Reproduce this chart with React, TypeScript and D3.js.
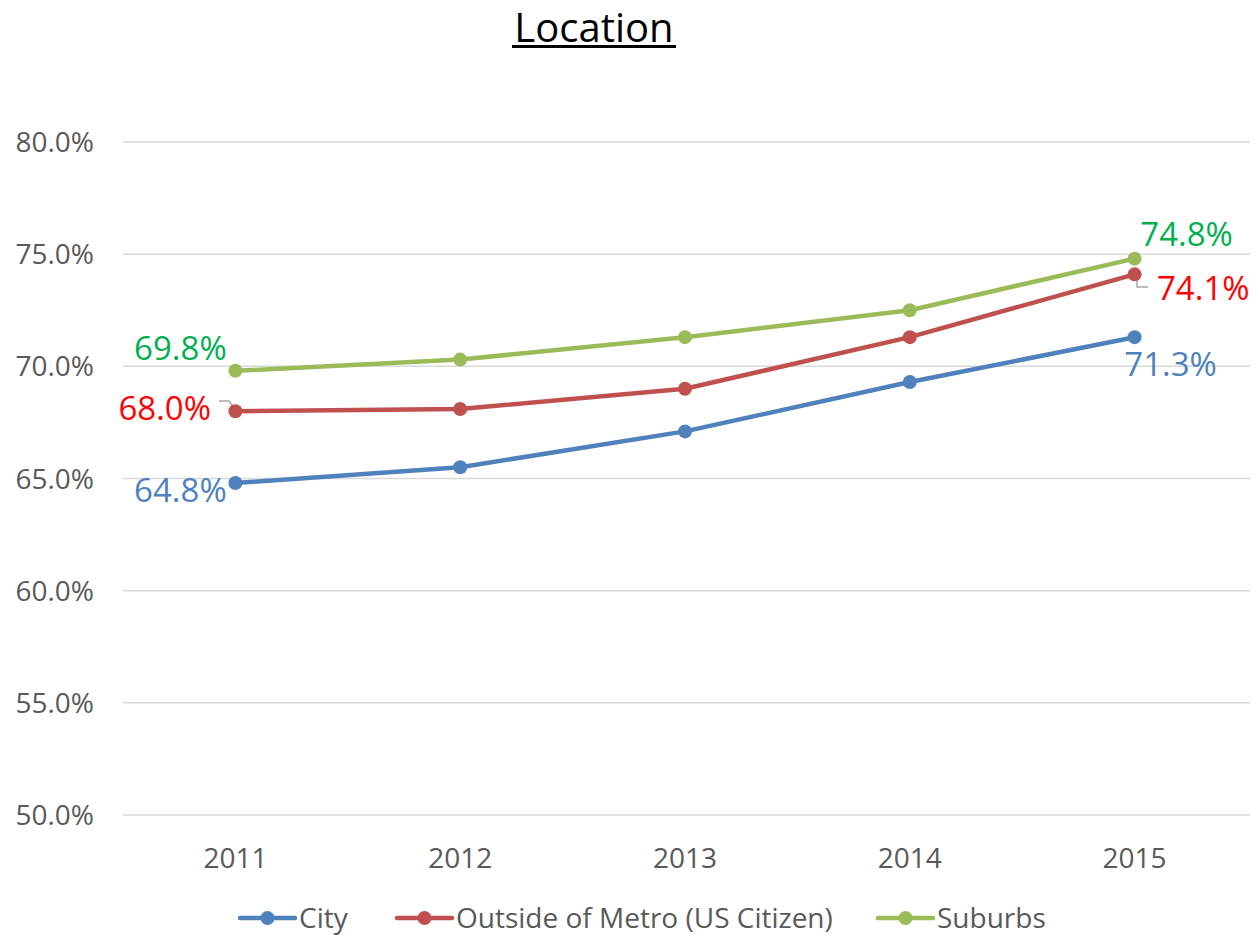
import React from "react";
import * as d3 from "d3";

const years = ["2011", "2012", "2013", "2014", "2015"];
const city = [64.8, 65.5, 67.1, 69.3, 71.3];
const outside = [68.0, 68.1, 69.0, 71.3, 74.1];
const suburbs = [69.8, 70.3, 71.3, 72.5, 74.8];
const yTicks = [50, 55, 60, 65, 70, 75, 80];
const seriesNames = ["City", "Outside of Metro (US Citizen)", "Suburbs"];

const W = 1254;
const H = 935;
const FONT = "'Open Sans', sans-serif";

export default function App() {
  const x = d3.scaleBand<string>().domain(years).range([123, 1247]);
  const y = d3.scaleLinear().domain([50, 80]).range([815, 142]);
  const cx = (yr: string) => (x(yr) as number) + x.bandwidth() / 2;
  const line = d3
    .line<number>()
    .x((_, i) => cx(years[i]))
    .y((v) => y(v));

  const series = [
    { name: seriesNames[0], data: city, color: "#4F81BD", label: "#4F81BD" },
    { name: seriesNames[1], data: outside, color: "#C0504D", label: "#FF0000" },
    { name: seriesNames[2], data: suburbs, color: "#9BBB59", label: "#00B050" },
  ];

  const fmt = (v: number) => v.toFixed(1) + "%";
  const first = cx(years[0]);
  const last = cx(years[4]);

  const legendItems = [
    { s: series[0], lx: 240 },
    { s: series[1], lx: 397 },
    { s: series[2], lx: 878 },
  ];

  return (
    <svg width={W} height={H} style={{ position: "absolute", left: 0, top: 0, background: "#fff" }}>
      <rect width={W} height={H} fill="#fff" />
      <text x={594} y={42} textAnchor="middle" fontFamily={FONT} fontSize={40} fill="#000">
        Location
      </text>
      <rect x={512} y={45} width={164} height={3} fill="#000" />

      {yTicks.map((t) => (
        <g key={t}>
          <line x1={123} x2={1250} y1={y(t)} y2={y(t)} stroke="#D9D9D9" strokeWidth={1.5} />
          <text x={94} y={y(t) + 10} textAnchor="end" fontFamily={FONT} fontSize={28} fill="#595959">
            {t.toFixed(1)}%
          </text>
        </g>
      ))}
      {years.map((yr) => (
        <text key={yr} x={cx(yr)} y={868} textAnchor="middle" fontFamily={FONT} fontSize={28} fill="#595959">
          {yr}
        </text>
      ))}

      {/* leader lines */}
      <polyline points={`219,401 229,401 235,410`} fill="none" stroke="#A6A6A6" strokeWidth={1.5} />
      <polyline points={`1137,278 1137,287 1148,287`} fill="none" stroke="#A6A6A6" strokeWidth={1.5} />

      {series.map((s) => (
        <g key={s.name}>
          <path d={line(s.data) as string} fill="none" stroke={s.color} strokeWidth={4.5} strokeLinejoin="round" />
          {s.data.map((v, i) => (
            <circle key={i} cx={cx(years[i])} cy={y(v)} r={7} fill={s.color} />
          ))}
        </g>
      ))}

      {/* data labels */}
      <text x={first - 55} y={y(suburbs[0]) - 11} textAnchor="middle" fontFamily={FONT} fontSize={33} fill={series[2].label}>
        {fmt(suburbs[0])}
      </text>
      <text x={211} y={y(outside[0]) + 9} textAnchor="end" fontFamily={FONT} fontSize={33} fill={series[1].label}>
        {fmt(outside[0])}
      </text>
      <text x={first - 55} y={y(city[0]) + 19} textAnchor="middle" fontFamily={FONT} fontSize={33} fill={series[0].label}>
        {fmt(city[0])}
      </text>
      <text x={last + 52} y={y(suburbs[4]) - 13} textAnchor="middle" fontFamily={FONT} fontSize={33} fill={series[2].label}>
        {fmt(suburbs[4])}
      </text>
      <text x={1157} y={y(outside[4]) + 26} textAnchor="start" fontFamily={FONT} fontSize={33} fill={series[1].label}>
        {fmt(outside[4])}
      </text>
      <text x={last + 36} y={y(city[4]) + 39} textAnchor="middle" fontFamily={FONT} fontSize={33} fill={series[0].label}>
        {fmt(city[4])}
      </text>

      {/* legend */}
      {legendItems.map(({ s, lx }) => (
        <g key={s.name}>
          <line x1={lx} x2={lx + 55} y1={918} y2={918} stroke={s.color} strokeWidth={4.5} strokeLinecap="round" />
          <circle cx={lx + 27.5} cy={918} r={7} fill={s.color} />
          <text x={lx + 59} y={928} fontFamily={FONT} fontSize={28} fill="#595959">
            {s.name}
          </text>
        </g>
      ))}
    </svg>
  );
}
